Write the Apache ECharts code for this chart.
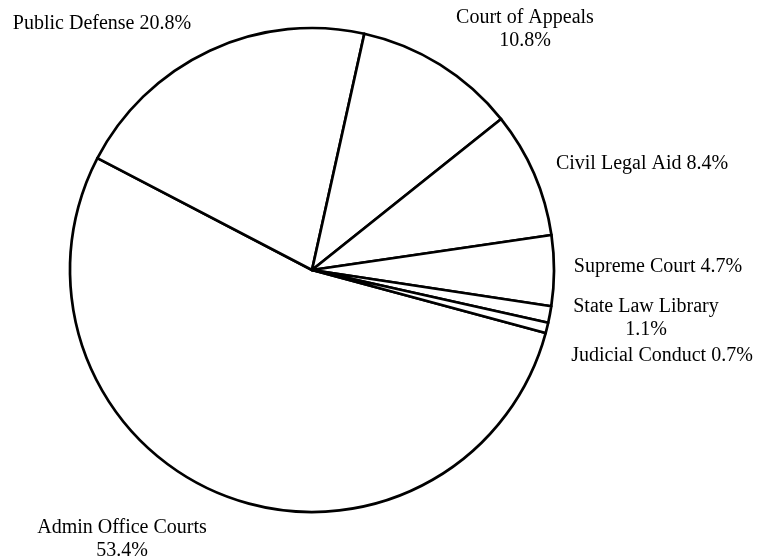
<!DOCTYPE html>
<html>
<head>
<meta charset="utf-8">
<script src="https://cdn.jsdelivr.net/npm/echarts@6/dist/echarts.min.js"></script>
<style>
  html, body { margin: 0; padding: 0; background: #fff; }
  #chart { width: 773px; height: 557px; }
</style>
</head>
<body>
<div id="chart"></div>
<script>
var names = ['Admin Office Courts', 'Public Defense', 'Court of Appeals', 'Civil Legal Aid',
  'Supreme Court', 'State Law Library', 'Judicial Conduct'];
var shares = [53.4, 20.8, 10.8, 8.4, 4.7, 1.1, 0.7];
// label text breaks the line after the name for some slices
var breakAfterName = [true, false, true, false, false, true, false];

// where each label sits (centre of the text block)
var labelSpots = [[122, 539], [102, 24], [525, 29], [642, 164], [658, 267], [646, 318], [662, 356]];

var myChart = echarts.init(document.getElementById('chart'), null, { renderer: 'canvas' });

var option = {
  backgroundColor: '#fff',
  animation: false,
  series: [{
    type: 'pie',
    center: [312, 270],
    radius: 242,
    startAngle: -15.1,
    clockwise: true,
    silent: true,
    data: names.map(function (n, i) {
      return { name: n, value: shares[i] };
    }),
    itemStyle: { color: '#fff', borderColor: '#000', borderWidth: 2.7 },
    label: {
      show: true,
      position: 'outside',
      color: '#000',
      fontFamily: 'Liberation Serif',
      fontSize: 20,
      lineHeight: 23,
      align: 'center',
      overflow: 'none',
      formatter: function (p) {
        var v = shares[p.dataIndex].toFixed(1) + '%';
        return p.name + (breakAfterName[p.dataIndex] ? '\n' : ' ') + v;
      }
    },
    labelLine: { show: false },
    labelLayout: function (params) {
      var s = labelSpots[params.dataIndex];
      return { x: s[0], y: s[1], align: 'center', verticalAlign: 'middle' };
    }
  }]
};

myChart.setOption(option);
</script>
</body>
</html>
